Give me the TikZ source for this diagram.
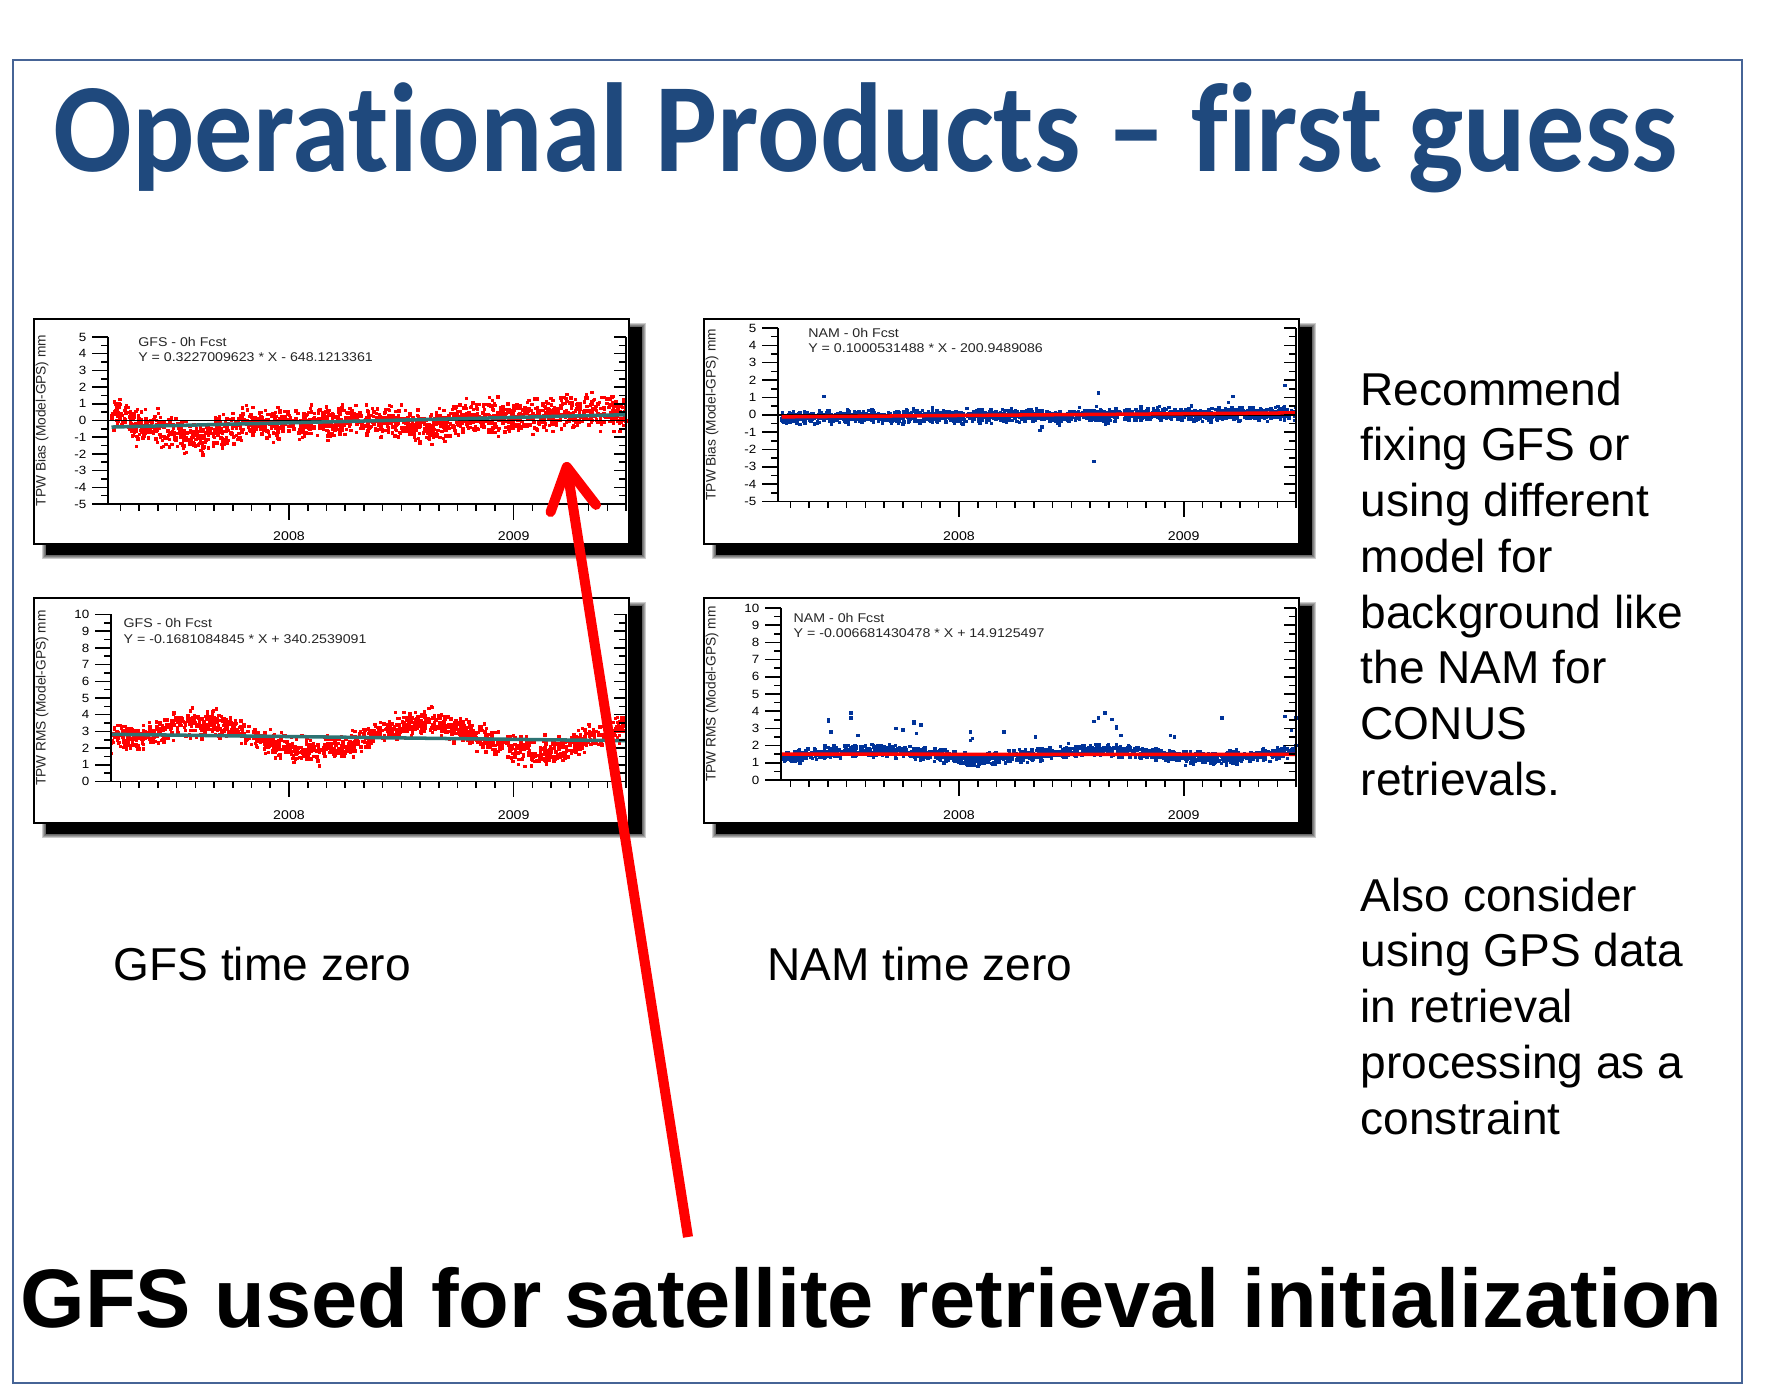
\documentclass[tikz,border=0pt]{standalone}
\usepackage{fontspec}
\setmainfont{Liberation Sans}
\newfontfamily\titlefont[FakeStretch=0.92,Ligatures=CommonOff]{Carlito}
\newfontfamily\plotfont[FakeStretch=1.12]{Liberation Sans}
\usetikzlibrary{arrows.meta}

\definecolor{titleblue}{RGB}{31,73,125}
\definecolor{slideframe}{RGB}{70,100,150}
\definecolor{trendteal}{RGB}{45,115,115}
\definecolor{namblue}{RGB}{0,51,153}

\tikzset{
  axisline/.style={line width=0.45pt},
  panelframe/.style={draw=black,fill=white,line width=0.6pt},
  ticklabel/.style={font=\plotfont\fontsize{3.4}{4}\selectfont,anchor=east,inner sep=0pt},
  yearlabel/.style={font=\plotfont\fontsize{3.6}{4}\selectfont,inner sep=0pt},
  fitlabel/.style={font=\plotfont\fontsize{3.6}{4}\selectfont,anchor=west,inner sep=0pt,text=black!85},
  axislabel/.style={font=\fontsize{3.9}{4}\selectfont,rotate=90,inner sep=0pt,text=black!85},
  bodytext/.style={font=\fontsize{13.1}{15.85}\selectfont,align=left,inner sep=0pt,anchor=north west},
  caption/.style={font=\fontsize{13.1}{15.85}\selectfont,inner sep=0pt,anchor=base west},
}

% frame with its shadow, in panel coordinates
\newcommand{\tpwframe}{%
  \fill[black] (12,8) rectangle (608,236);
  \foreach \k in {1,...,4}
    \fill[black,opacity=0.2] (12-\k,8-\k) rectangle (608+\k,236+\k);
  \draw[panelframe] (0,0) rectangle (595,225);
}

% #1 axis x, #2 top y, #3 bottom y, #4 min, #5 max, #6 name prefix, #7 axis text
\newcommand{\tpwaxes}[7]{%
  \draw[axisline] (#1,#2) -- (#1,#3) -- (592,#3) -- (592,#2);
  \foreach \v in {#4,...,#5} {
    \pgfmathsetmacro\yy{#3-(\v-(#4))*(#3-#2)/(#5-(#4))}
    \pgfmathsetmacro\yh{\yy+0.5*(#3-#2)/(#5-(#4))}
    \draw[axisline] (#1-16,\yy) -- (#1,\yy) (580,\yy) -- (592,\yy);
    \ifnum\v>#4 \draw[axisline] (#1-7,\yh) -- (#1,\yh) (585,\yh) -- (592,\yh); \fi
    \node[ticklabel] (#6v\v) at (#1-21,\yy) {\v};
  }
  \foreach \m in {-9,...,18}
    \draw[axisline] (255+\m*18.725,#3) -- (255+\m*18.725,#3+7);
  \draw[axisline] (255,#3) -- (255,#3+16) (479.7,#3) -- (479.7,#3+16);
  \node[yearlabel] (#6y8) at (255,217) {2008};
  \node[yearlabel] (#6y9) at (479.7,217) {2009};
  \node[axislabel] (#6lab) at (8,{(#2+#3)/2}) {#7};
}

% #1 colour, #2 count, #3 mean in \tx, #4 spread, #5 zero y, #6 px per unit
\newcommand{\tpwscatter}[6]{%
  \foreach \i in {1,...,#2} {
    \pgfmathsetmacro\tx{-0.79+2.29*rnd}
    \pgfmathsetmacro\ty{#3+#4*(rand+rand+rand)}
    \fill[#1] (253.3+\tx*224.7,#5-1.7-\ty*#6) rectangle ++(3.4,3.4);
  }
}

\begin{document}
\begin{tikzpicture}[x=0.01cm,y=-0.01cm]
\pgfmathsetseed{2009}
\useasboundingbox (0,0) rectangle (1776,1386);
\fill[white] (0,0) rectangle (1776,1386);
\draw[slideframe,line width=0.6pt] (13,60) rectangle (1742,1383);

\node[anchor=base west,inner sep=0pt,text=titleblue,font=\titlefont\bfseries\fontsize{36}{40}\selectfont] (title) at (53,172) {Operational Products – first guess};

% GFS bias
\begin{scope}[shift={(34,319)}]
  \tpwframe
  \tpwscatter{red}{1700}{0.3227*\tx-0.1-0.9*exp(-(\tx+0.4)*(\tx+0.4)/0.017)-0.6*exp(-(\tx-0.62)*(\tx-0.62)/0.012)+0.7*exp(-(\tx+0.76)*(\tx+0.76)/0.0025)+0.25*exp(-(\tx-1.3)*(\tx-1.3)/0.022)}{0.45}{101.5}{16.7}
  \draw[black,line width=0.5pt] (74,101.5) -- (592,101.5);
  \draw[trendteal,line width=1pt] (77.5,{101.5-16.7*(0.3227009623*(-0.79)-0.1378)}) -- (592,{101.5-16.7*(0.3227009623*1.5-0.1378)});
  \tpwaxes{74}{18}{185}{-5}{5}{gb}{TPW Bias (Model-GPS) mm}
  \node[fitlabel] (gbname) at (103.6,22.7) {GFS - 0h Fcst};
  \node[fitlabel] (gbfit) at (103.6,37.7) {Y = 0.3227009623 * X - 648.1213361};
\end{scope}

% GFS rms
\begin{scope}[shift={(34,598)}]
  \tpwframe
  \tpwscatter{red}{1500}{2.65+0.85*cos(360*(\tx-0.6))+0.6*exp(-(\tx+0.78)*(\tx+0.78)/0.006)}{0.36}{183.5}{16.7}
  \draw[trendteal,line width=1pt] (77.5,{183.5-16.7*(2.692-0.1681084845*(-0.79))}) -- (592,{183.5-16.7*(2.692-0.1681084845*1.5)});
  \tpwaxes{77}{16.5}{183.5}{0}{10}{gr}{TPW RMS (Model-GPS) mm}
  \node[fitlabel] (grname) at (89,25) {GFS - 0h Fcst};
  \node[fitlabel] (grfit) at (89,41) {Y = -0.1681084845 * X + 340.2539091};
\end{scope}

% NAM bias
\begin{scope}[shift={(704,319)}]
  \tpwframe
  \tpwscatter{namblue}{1500}{0.1*\tx-0.09-0.15*exp(-(\tx-0.45)*(\tx-0.45)/0.002)-0.15*exp(-(\tx-0.65)*(\tx-0.65)/0.001)}{0.18}{95.75}{17.35}
  \foreach \a/\b in {-0.6/1.05,0.62/1.25,0.6/-2.7,1.45/1.7,1.22/1.05,1.2/0.7,0.36/-0.9,0.37/-0.7}
    \fill[namblue] (253.3+\a*224.7,95.75-1.7-\b*17.35) rectangle ++(3.4,3.4);
  \draw[black,line width=0.5pt] (74,95.75) -- (592,95.75);
  \draw[red,line width=1pt] (77.5,{95.75-17.35*(-0.0422+0.10005*(-0.79))}) -- (592,{95.75-17.35*(-0.0422+0.10005*1.5)});
  \tpwaxes{74}{9}{182.5}{-5}{5}{nb}{TPW Bias (Model-GPS) mm}
  \node[fitlabel] (nbname) at (103.6,13.7) {NAM - 0h Fcst};
  \node[fitlabel] (nbfit) at (103.6,29) {Y = 0.1000531488 * X - 200.9489086};
\end{scope}

% NAM rms
\begin{scope}[shift={(704,598)}]
  \tpwframe
  \tpwscatter{namblue}{1500}{1.5+0.22*cos(360*(\tx-0.62))-0.25*exp(-(\tx-0.07)*(\tx-0.07)/0.002)}{0.17}{182}{17.2}
  \foreach \a/\b in {-0.58/3.4,-0.58/3.5,-0.57/2.8,-0.48/3.6,-0.48/3.9,-0.45/2.6,-0.28/3.0,-0.25/2.9,-0.2/3.3,-0.2/3.4,-0.19/2.7,-0.17/3.2,0.05/2.8,0.06/2.4,0.05/2.3,0.2/2.8,0.34/2.5,0.6/3.4,0.62/3.6,0.65/3.9,0.68/3.5,0.7/3.1,0.7/3.0,0.72/2.6,0.94/2.6,0.96/2.5,1.17/3.6,1.45/3.7,1.5/3.6,1.48/2.9}
    \fill[namblue] (253.3+\a*224.7,182-1.7-\b*17.2) rectangle ++(3.4,3.4);
  \draw[red,line width=1pt] (77.5,{182-17.2*1.5015}) -- (592,{182-17.2*1.4862});
  \tpwaxes{77}{10}{182}{0}{10}{nr}{TPW RMS (Model-GPS) mm}
  \node[fitlabel] (nrname) at (89,20) {NAM - 0h Fcst};
  \node[fitlabel] (nrfit) at (89,35.4) {Y = -0.006681430478 * X + 14.9125497};
\end{scope}

\node[caption] (gfszero) at (113,980) {GFS time zero};
\node[caption] (namzero) at (767,980) {NAM time zero};

\node[bodytext] (recommend) at (1360,371) {Recommend\\fixing GFS or\\using different\\model for\\background like\\the NAM for\\CONUS\\retrievals.};
\node[bodytext] (alsoconsider) at (1360,877) {Also consider\\using GPS data\\in retrieval\\processing as a\\constraint};

\node[anchor=base west,inner sep=0pt,font=\bfseries\fontsize{23.6}{28}\selectfont] (gfsused) at (20,1327) {GFS used for satellite retrieval initialization};

\coordinate (arrowtail) at (688,1237);
\coordinate (arrowtip) at (566,462);
\draw[red,line width=2.85pt,-{Straight Barb[length=0.42cm,width=0.46cm,round]}] (arrowtail) -- (arrowtip);
\end{tikzpicture}
\end{document}
